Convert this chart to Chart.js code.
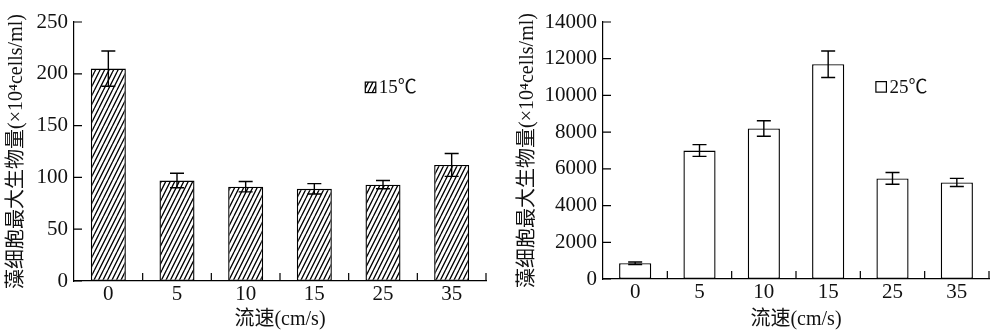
<!DOCTYPE html>
<html>
<head>
<meta charset="utf-8">
<script src="https://cdn.jsdelivr.net/npm/chart.js@4.4.0/dist/chart.umd.min.js"></script>
<style>
  body { margin: 0; background: #fff; }
  #wrap { position: relative; width: 990px; height: 332px; }
  canvas { position: absolute; top: 0; }
  #left { left: 0; }
  #right { left: 495px; }
</style>
</head>
<body>
<div id="wrap">
  <canvas id="left" width="495" height="332"></canvas>
  <canvas id="right" width="495" height="332"></canvas>
</div>
<script>
// data
const speeds = ['0', '5', '10', '15', '25', '35'];
const biomass15 = [205, 97, 91, 89, 93, 112];
const error15 = [17, 7, 5, 5, 4, 11];
const biomass25 = [860, 7000, 8200, 11700, 5480, 5260];
const error25 = [70, 320, 420, 720, 320, 220];
const label15 = '15℃';
const label25 = '25℃';
const yTitle = '藻细胞最大生物量(×10⁴cells/ml)';
const xTitle = '流速(cm/s)';

const SERIF = "'Liberation Serif', 'Noto Sans CJK SC', serif";
const INK = '#111';

// diagonal hatch "////"
function hatch() {
    const c = document.createElement('canvas');
    c.width = 9; c.height = 18;
    const g = c.getContext('2d');
    g.fillStyle = '#fff';
    g.fillRect(0, 0, 9, 18);
    g.strokeStyle = '#000';
    g.lineWidth = 1.3;
    g.beginPath();
    [-9, -4.5, 0, 4.5, 9].forEach(x0 => {
        g.moveTo(x0, 18);
        g.lineTo(x0 + 9, 0);
    });
    g.stroke();
    return g.createPattern(c, 'repeat');
}

// error bars drawn from the dataset's own errors, through the scales
const errorBars = {
    id: 'errorBars',
    afterDatasetsDraw(chart) {
        const {ctx, scales: {x, y}} = chart;
        const ds = chart.data.datasets[0];
        const cap = 7;
        ctx.save();
        ctx.strokeStyle = '#000';
        ctx.lineWidth = 1.4;
        ds.data.forEach((v, i) => {
            const px = x.getPixelForValue(i);
            const top = y.getPixelForValue(v + ds.errors[i]);
            const bot = y.getPixelForValue(v - ds.errors[i]);
            ctx.beginPath();
            ctx.moveTo(px, top); ctx.lineTo(px, bot);
            ctx.moveTo(px - cap, top); ctx.lineTo(px + cap, top);
            ctx.moveTo(px - cap, bot); ctx.lineTo(px + cap, bot);
            ctx.stroke();
        });
        ctx.restore();
    }
};

// short inward ticks on both axes
const innerTicks = {
    id: 'innerTicks',
    afterDraw(chart) {
        const {ctx, chartArea, scales: {x, y}} = chart;
        const len = 8;
        ctx.save();
        ctx.strokeStyle = '#000';
        ctx.lineWidth = 1.2;
        ctx.beginPath();
        y.ticks.forEach((t, i) => {
            const py = y.getPixelForTick(i);
            ctx.moveTo(chartArea.left, py);
            ctx.lineTo(chartArea.left + len, py);
        });
        for (let i = 0; i < chart.data.labels.length; i++) {
            const px = x.getPixelForValue(i + 0.5);
            ctx.moveTo(px, chartArea.bottom);
            ctx.lineTo(px, chartArea.bottom - len);
        }
        ctx.stroke();
        ctx.restore();
    }
};

// small legend inside the plot area
const boxLegend = {
    id: 'boxLegend',
    afterDraw(chart) {
        const {ctx, chartArea} = chart;
        const ds = chart.data.datasets[0];
        const bx = chartArea.left + 0.707 * (chartArea.right - chartArea.left);
        const by = chartArea.top + 0.232 * (chartArea.bottom - chartArea.top);
        const s = 10.5;
        ctx.save();
        ctx.fillStyle = ds.backgroundColor;
        ctx.fillRect(bx, by, s, s);
        ctx.strokeStyle = '#000';
        ctx.lineWidth = 1.2;
        ctx.strokeRect(bx, by, s, s);
        ctx.fillStyle = INK;
        ctx.font = '19px ' + SERIF;
        ctx.textBaseline = 'middle';
        ctx.fillText(ds.label, bx + s + 3, by + s / 2 + 1);
        ctx.restore();
    }
};

function makeChart(id, values, errors, label, fill, yMax, yStep, yWidth, xHeight, padRight, titlePad, barPct) {
    const ctx = document.getElementById(id).getContext('2d');
    return new Chart(ctx, {
        type: 'bar',
        data: {
            labels: speeds,
            datasets: [{
                label: label,
                data: values,
                errors: errors,
                backgroundColor: fill,
                borderColor: '#000',
                borderWidth: 1.4,
                borderSkipped: false,
                categoryPercentage: 1,
                barPercentage: barPct
            }]
        },
        options: {
            responsive: false,
            animation: false,
            layout: {padding: {left: 0, right: padRight, top: 22, bottom: 0}},
            plugins: {legend: {display: false}, tooltip: {enabled: false}},
            scales: {
                x: {
                    offset: true,
                    grid: {display: false, drawTicks: false},
                    border: {display: true, color: '#000', width: 1.2},
                    ticks: {color: INK, padding: 1, font: {family: SERIF, size: 21}},
                    title: {display: true, text: xTitle, color: INK, padding: {top: 0, bottom: 0},
                            font: {family: SERIF, size: 20}},
                    afterFit: scale => { scale.height = xHeight; }
                },
                y: {
                    min: 0,
                    max: yMax,
                    grid: {display: false, drawTicks: false},
                    border: {display: true, color: '#000', width: 1.2},
                    ticks: {stepSize: yStep, color: INK, padding: 6, font: {family: SERIF, size: 21},
                            callback: v => String(v)},
                    title: {display: true, text: yTitle, color: INK, padding: {top: titlePad, bottom: 0},
                            font: {family: SERIF, size: 20}},
                    afterFit: scale => { scale.width = yWidth; }
                }
            }
        },
        plugins: [errorBars, innerTicks, boxLegend]
    });
}

makeChart('left', biomass15, error15, label15, hatch(), 250, 50, 74, 51, 9, 5, 0.51);
makeChart('right', biomass25, error25, label25, '#fff', 14000, 2000, 108, 53, 1, 21, 0.5);
</script>
</body>
</html>
